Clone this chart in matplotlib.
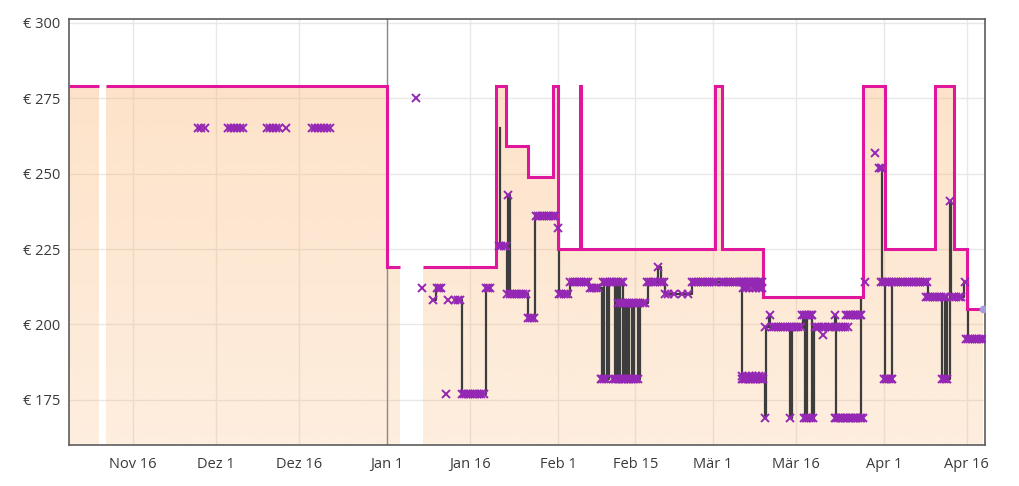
import numpy as np
import matplotlib
matplotlib.use("Agg")
import matplotlib.pyplot as plt

plt.rcParams["font.family"] = ["Open Sans", "DejaVu Sans"]

# x values are days relative to Jan 1 (year change)
tick_days = [-46, -31, -16, 0, 15, 31, 45, 59, 74, 90, 105]
tick_labels = ["Nov 16", "Dez 1", "Dez 16", "Jan 1", "Jan 16", "Feb 1",
               "Feb 15", "Mär 1", "Mär 16", "Apr 1", "Apr 16"]
month_start_days = [-31, 31, 59, 90]
price_ticks = [175, 200, 225, 250, 275, 300]

# magenta price steps: interval edges (days) and price per interval, nan = no data
list_edges = [-57.6, -52.2, -50.9, 0.0, 2.4, 6.6, 19.7, 21.6, 25.5, 30.1, 31.0,
              35.0, 35.15, 59.4, 60.7, 68.1, 86.2, 90.2, 99.3, 102.7, 105.1, 108.0]
list_eur = [279, np.nan, 279, 219, np.nan, 219, 279, 259, 249, 279, 225,
            279, 225, 279, 225, 209, 279, 225, 279, 225, 205]
last_point = (108.0, 205)

# dark step line, one list of (day, price) per connected piece
line_jan_a = [(8.4, 208), (8.8, 212), (9.8, 212)]
line_jan_b = [(12.3, 208), (13.5, 177), (18.0, 212), (18.7, 212)]
line_feb_mar = [(20.45, 265), (20.5, 226), (21.7, 210), (22.0, 243), (22.3, 210),
                (25.5, 202), (26.8, 236), (30.9, 232), (31.2, 210), (33.2, 214),
                (36.6, 212), (38.9, 182), (39.3, 214), (39.8, 182), (40.2, 214),
                (41.3, 182), (41.6, 214), (41.9, 182), (42.2, 214), (42.8, 182),
                (43.1, 207), (43.4, 182), (43.8, 207), (44.3, 182), (44.7, 207),
                (45.5, 182), (45.8, 207), (47.2, 214), (49.0, 219), (49.6, 214),
                (50.3, 210), (55.2, 214), (64.2, 182), (68.4, 169), (68.7, 199),
                (69.1, 203), (69.4, 199), (73.0, 169), (73.3, 199), (75.3, 203),
                (75.7, 169), (76.1, 203), (77.0, 169), (77.3, 199), (81.1, 203),
                (81.4, 169), (85.9, 209), (86.2, 209)]
line_apr = [(89.2, 252), (89.7, 214), (90.1, 182), (91.4, 214), (98.0, 209),
            (100.6, 182), (101.1, 209), (101.4, 182), (101.9, 241), (102.2, 209),
            (104.5, 214), (105.3, 195), (108.5, 195)]

# purple x offers: (price, days)
offers_dec = [
    (265, [-34.2, -33.6, -33.0]),
    (265, [-28.8, -28.3, -27.7, -27.2, -26.6, -26.1]),
    (265, [-21.7, -21.2, -20.6, -20.1, -19.6, -18.3]),
    (265, [-13.6, -13.1, -12.5, -12.0, -11.4, -10.9, -10.3]),
]
offers_jan = [
    (275, [5.3]),
    (212, [6.3, 9.0, 9.4, 9.7, 17.9, 18.3, 18.7]),
    (208, [8.4, 11.1, 12.4, 12.8, 13.2]),
    (177, [10.7, 13.5, 13.9, 14.3, 14.7, 15.1, 15.5, 15.9, 16.3, 16.7, 17.1, 17.5]),
    (226, [20.3, 20.7, 21.1, 21.5]),
    (243, [22.0]),
    (210, [21.8, 22.3, 22.7, 23.1, 23.5, 23.9, 24.3, 24.7, 25.1]),
    (202, [25.5, 25.9, 26.3, 26.6]),
    (236, [26.9, 27.3, 27.7, 28.1, 28.5, 28.9, 29.3, 29.7, 30.1, 30.5]),
]
offers_feb = [
    (232, [31.0]),
    (210, [31.2, 31.6, 32.0, 32.4, 32.8]),
    (214, [33.2, 33.6, 34.0, 34.4, 34.8, 35.2, 35.6, 36.0, 36.4]),
    (212, [36.7, 37.1, 37.5, 37.9, 38.3]),
    (214, [39.1, 39.5, 39.9, 40.3, 40.7, 41.1, 41.5, 41.9, 42.3, 42.7]),
    (182, [38.7, 39.0, 39.3, 39.6, 40.9, 41.2, 41.5, 41.8, 42.1, 42.4, 42.7,
           43.0, 43.3, 43.6, 43.9, 44.2, 44.5, 44.8, 45.1, 45.4]),
    (207, [41.9, 42.3, 42.7, 43.1, 43.5, 43.9, 44.3, 44.7, 45.1, 45.5, 45.9,
           46.3, 46.7]),
    (214, [47.0, 47.4, 47.8, 48.2, 48.6, 49.4, 49.8, 50.2]),
    (219, [49.1]),
    (210, [50.4, 50.8, 51.9, 53.4, 54.6]),
]
offers_mar = [
    (214, [55.2, 55.6, 56.0, 56.4, 56.8, 57.2, 57.6, 58.0, 58.4, 58.8, 59.2,
           59.6, 60.6, 61.0, 61.4, 61.8, 62.2, 62.6, 63.0, 63.4, 63.8, 64.1,
           64.4, 64.7, 65.0, 65.3, 65.6, 65.9, 66.2, 66.5, 66.8, 67.1, 67.4,
           67.7, 68.0]),
    (212, [64.4, 65.0, 65.6, 66.2, 66.8, 67.4, 68.0]),
    (182, [64.2, 64.5, 64.8, 65.1, 65.4, 65.7, 66.0, 66.3, 66.6, 66.9, 67.2,
           67.5, 67.8, 68.1]),
    (183, [64.35, 64.95, 65.55, 66.15, 66.75, 67.35, 67.95]),
    (169, [68.4, 73.0, 75.5, 75.8, 76.1, 76.5, 76.8, 77.1, 81.1, 81.4, 81.7,
           82.0, 82.3, 82.6, 82.9, 83.2, 83.5, 83.8, 84.1, 84.4, 84.7, 85.0,
           85.3, 85.6, 85.9, 86.2]),
    (199, [68.4, 69.7, 70.1, 70.5, 70.9, 71.3, 71.7, 72.1, 72.5, 72.9, 73.3,
           73.7, 74.1, 74.5, 74.9, 77.5, 77.9, 78.3, 78.7, 79.4, 79.8, 80.2,
           80.6, 81.4, 81.8, 82.2, 82.6, 83.0, 83.4]),
    (203, [69.3, 75.2, 75.5, 75.8, 76.1, 76.4, 76.7, 77.0, 81.1, 83.2, 83.5,
           83.8, 84.1, 84.4, 84.7, 85.0, 85.3, 85.6, 85.9]),
    (196.5, [79.0]),
    (214, [86.5]),
]
offers_apr = [
    (257, [88.4]),
    (252, [89.1, 89.4, 89.7]),
    (214, [89.5, 89.8, 90.2, 90.6, 91.0, 91.4, 91.8, 92.2, 92.6, 93.0, 93.4,
           93.8, 94.2, 94.6, 95.0, 95.4, 95.8, 96.2, 96.6, 97.0, 97.4, 97.8]),
    (182, [90.0, 90.3, 90.6, 90.9, 91.2, 91.5, 100.6, 100.9, 101.2, 101.5]),
    (209, [97.6, 98.0, 98.4, 98.8, 99.2, 99.6, 100.0, 100.4, 100.8, 101.2,
           102.3, 102.7, 103.1, 103.5, 103.9]),
    (241, [101.9]),
    (214, [104.6]),
    (195, [104.8, 105.2, 105.6, 106.0, 106.4, 106.8, 107.2, 107.6, 108.0]),
]

x_min, x_max = -57.6, 108.3
y_min, y_max = 160, 301.3

fig, ax = plt.subplots(figsize=(10.2, 4.86), dpi=100)
fig.subplots_adjust(left=0.0676, right=0.9657, bottom=0.0844, top=0.961)

ax.set_axisbelow(True)
ax.grid(color="#e8e8e8", lw=1)

# peach area under the magenta steps, soft gradient top -> bottom
area = ax.stairs(list_eur, list_edges, baseline=y_min, fill=True,
                 facecolor="none", edgecolor="none", zorder=1)
alpha = np.linspace(0.37, 0.22, 200)
grad = np.zeros((200, 1, 4))
grad[:, 0, 0] = 251 / 255
grad[:, 0, 1] = 178 / 255
grad[:, 0, 2] = 108 / 255
grad[:, 0, 3] = alpha
im = ax.imshow(grad, extent=[x_min, x_max, y_min, 280], aspect="auto",
               origin="upper", zorder=1, interpolation="bilinear")
im.set_clip_path(area)

ax.axvline(0, color="#8c8c8c", lw=1, zorder=2)

for seg in [line_jan_a, line_jan_b, line_feb_mar, line_apr]:
    d, p = zip(*seg)
    ax.plot(d, p, drawstyle="steps-post", color="#3d3d3d", lw=1.6, zorder=3)

ax.stairs(list_eur, list_edges, baseline=None, color="#e0169c", lw=2.2, zorder=4)

for group in [offers_dec, offers_jan, offers_feb, offers_mar, offers_apr]:
    for price, days in group:
        ax.plot(days, [price] * len(days), ls="none", marker="x", ms=5.5, mew=1.4,
                color="#9427b3", zorder=5)

ax.plot(*last_point, marker="o", ms=4.5, color="#a49ddb", zorder=6)

ax.set_xlim(x_min, x_max)
ax.set_ylim(y_min, y_max)
ax.set_xticks(tick_days, tick_labels)
ax.set_xticks(month_start_days, minor=True)
ax.set_yticks(price_ticks, [f"€ {p}" for p in price_ticks])
ax.tick_params(axis="both", which="major", length=0, labelsize=10.5,
               labelcolor="#3a3a3a")
ax.tick_params(axis="x", which="major", pad=9)
ax.tick_params(axis="y", which="major", pad=6)
ax.tick_params(axis="x", which="minor", direction="in", length=3, width=1.5,
               color="#9a9a9a")
for side in ["left", "bottom", "top", "right"]:
    ax.spines[side].set_color("#5c5c5c")
    ax.spines[side].set_linewidth(1.2)

plt.savefig("out.png", dpi=100)
plt.close()
